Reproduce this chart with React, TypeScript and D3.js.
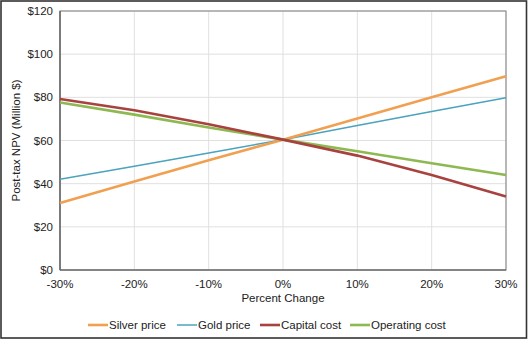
import React from "react";
import * as d3 from "d3";

const changes = [-0.3, -0.2, -0.1, 0, 0.1, 0.2, 0.3];
const silverPrice = [31, 41, 50.8, 60.4, 70.2, 80, 89.8];
const goldPrice = [42, 48.1, 54.2, 60.4, 66.9, 73.4, 79.8];
const capitalCost = [79.2, 74, 67.5, 60.4, 53, 44, 34];
const operatingCost = [77.6, 72, 66, 60.4, 55, 49.5, 44];
const yTicks = [0, 20, 40, 60, 80, 100, 120];
const seriesNames = ["Silver price", "Gold price", "Capital cost", "Operating cost"];

const W = 528, H = 340;
const M = { left: 60, right: 506, top: 11, bottom: 270 };

export default function App() {
  const x = d3.scaleLinear().domain([-0.3, 0.3]).range([M.left, M.right]);
  const y = d3.scaleLinear().domain([0, 120]).range([M.bottom, M.top]);
  const series = [
    { name: seriesNames[0], values: silverPrice, color: "#F0A050", width: 2.6 },
    { name: seriesNames[1], values: goldPrice, color: "#4BA3BE", width: 1.5 },
    { name: seriesNames[2], values: capitalCost, color: "#A8423F", width: 2.6 },
    { name: seriesNames[3], values: operatingCost, color: "#8DB852", width: 2.6 },
  ];
  const line = (vals: number[]) =>
    d3.line<number>().x((_, i) => x(changes[i])).y((v) => y(v))(vals) || "";
  const fmtX = (v: number) => `${Math.round(v * 100)}%`;
  const font = "'Liberation Sans', Arial, sans-serif";
  const legendX = [88, 177, 260, 350];
  const drawOrder = [1, 0, 3, 2];
  return (
    <div style={{ position: "fixed", left: 0, top: 0 }}>
      <svg width={W} height={H} style={{ display: "block", fontFamily: font }}>
        <rect x={0} y={0} width={W} height={H} fill="#fff" />
        <rect x={1} y={1} width={W - 2.5} height={H - 3} fill="none" stroke="#333" strokeWidth={1.6} />
        {yTicks.map((t) => (
          <line key={"gy" + t} x1={M.left} x2={M.right} y1={y(t)} y2={y(t)} stroke="#E0E0E0" strokeWidth={1} />
        ))}
        {changes.map((c) => (
          <line key={"gx" + c} x1={x(c)} x2={x(c)} y1={M.top} y2={M.bottom} stroke="#E0E0E0" strokeWidth={1} />
        ))}
        <rect x={M.left} y={M.top} width={M.right - M.left} height={M.bottom - M.top} fill="none" stroke="#7F7F7F" strokeWidth={1} />
        <line x1={M.left} x2={M.left} y1={M.top} y2={M.bottom} stroke="#555" strokeWidth={1.2} />
        <line x1={M.left} x2={M.right} y1={M.bottom} y2={M.bottom} stroke="#555" strokeWidth={1.2} />
        {yTicks.map((t) => (
          <text key={"ty" + t} x={M.left - 7} y={y(t)} dy="0.35em" textAnchor="end" fontSize={11.5} fill="#222">
            {`$${t}`}
          </text>
        ))}
        {changes.map((c) => (
          <text key={"tx" + c} x={x(c)} y={M.bottom + 18} textAnchor="middle" fontSize={11.5} fill="#222">
            {fmtX(c)}
          </text>
        ))}
        <text x={(M.left + M.right) / 2} y={302} textAnchor="middle" fontSize={11.5} fill="#222">
          Percent Change
        </text>
        <text
          transform={`translate(20, ${(M.top + M.bottom) / 2}) rotate(-90)`}
          textAnchor="middle"
          fontSize={11.5}
          fill="#222"
        >
          Post-tax NPV (Million $)
        </text>
        {drawOrder.map((i) => {
          const s = series[i];
          return (
            <path key={s.name} d={line(s.values)} fill="none" stroke={s.color} strokeWidth={s.width} strokeLinejoin="round" />
          );
        })}
        {series.map((s, i) => (
          <g key={"lg" + s.name} transform={`translate(${legendX[i]}, 325)`}>
            <line x1={0} x2={20} y1={0} y2={0} stroke={s.color} strokeWidth={s.width} />
            <text x={21} y={0} dy="0.35em" fontSize={11.5} fill="#222">
              {s.name}
            </text>
          </g>
        ))}
      </svg>
    </div>
  );
}
